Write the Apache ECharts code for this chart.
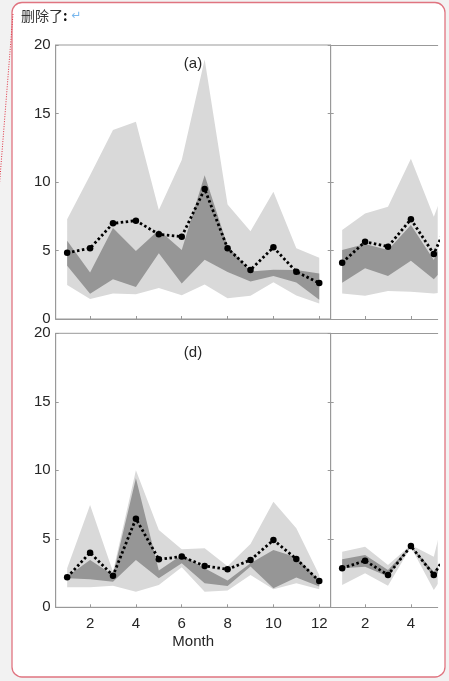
<!DOCTYPE html>
<html>
<head>
<meta charset="utf-8">
<script src="https://cdn.jsdelivr.net/npm/echarts@6/dist/echarts.min.js"></script>
<style>
html,body{margin:0;padding:0;background:#f2f2f2;}
#main{width:449px;height:681px;}
</style>
</head>
<body>
<div id="main"></div>
<script>
// 月份
var months = [1, 2, 3, 4, 5, 6, 7, 8, 9, 10, 11, 12];
var monthsRight = [1, 2, 3, 4, 5, 6];
var xTicksLeft = [2, 4, 6, 8, 10, 12];
var xTicksRight = [2, 4];

// (a) 左图
var aMean      = [4.84, 5.16, 6.98, 7.18, 6.18, 6.01, 9.49, 5.16, 3.58, 5.23, 3.45, 2.62];
var aLightHigh = [7.28, 10.5, 13.8, 14.4, 7.96, 11.6, 18.95, 8.35, 6.4, 9.29, 5.16, 4.47];
var aLightLow  = [2.48, 1.46, 1.87, 1.8, 2.26, 1.73, 2.52, 1.52, 1.7, 2.68, 1.72, 1.13];
var aDarkHigh  = [5.72, 3.4, 6.64, 4.97, 6.5, 5.04, 10.5, 5.35, 3.47, 3.6, 3.58, 3.32];
var aDarkLow   = [3.88, 1.84, 2.9, 2.33, 4.8, 2.6, 4.33, 3.43, 2.74, 3.14, 2.66, 1.41];

// (a) 右侧(被裁掉的一部分)
var bMean      = [4.11, 5.64, 5.28, 7.28, 4.74, 8.6];
var bLightHigh = [6.5, 7.7, 8.2, 11.7, 7.47, 11.8];
var bLightLow  = [1.87, 1.7, 2.04, 1.99, 1.87, 2.0];
var bDarkHigh  = [5.04, 5.47, 5.04, 6.86, 4.31, 8.3];
var bDarkLow   = [2.65, 3.7, 3.14, 4.26, 2.9, 4.7];

// (d) 左图
var dMean      = [2.19, 3.99, 2.31, 6.47, 3.5, 3.7, 3.02, 2.77, 3.45, 4.91, 3.53, 1.92];
var dLightHigh = [2.85, 7.47, 2.6, 10.0, 5.64, 4.23, 4.31, 3.0, 4.62, 7.71, 5.77, 2.36];
var dLightLow  = [1.46, 1.46, 1.58, 1.14, 1.63, 2.92, 1.14, 1.22, 2.36, 1.31, 1.75, 1.31];
var dDarkHigh  = [2.24, 3.45, 2.36, 9.42, 2.68, 3.82, 2.85, 1.95, 3.21, 4.18, 3.65, 1.95];
var dDarkLow   = [2.12, 2.04, 1.87, 3.45, 2.12, 3.21, 1.75, 1.56, 2.97, 1.39, 2.17, 1.51];

// (d) 右侧
var eMean      = [2.85, 3.4, 2.36, 4.47, 2.36, 5.2];
var eLightHigh = [4.06, 4.42, 3.09, 4.55, 3.69, 10.5];
var eLightLow  = [1.63, 2.48, 1.58, 4.4, 1.26, 3.8];
var eDarkHigh  = [3.5, 3.82, 2.72, 4.5, 2.6, 5.0];
var eDarkLow   = [2.85, 2.96, 2.24, 4.42, 2.2, 3.9];

var LIGHT = '#d9d9d9';
var DARK = '#969696';
var AXIS = '#999999';
var TXT = '#262626';
var FONT = 'Liberation Sans';

// 布局
var plotLeft = 55.7, plotW = 275, rightW = 107, plotH = 274;
var topA = 45, topD = 333.3;
var rightMax = 0.5 + rightW / (plotW / 12);

function pairs(xs, ys) {
	return xs.map(function (x, i) { return [x, ys[i]]; });
}

// 阴影带: 一个多边形, 上沿 + 反向的下沿
function band(idx, xs, low, high, color) {
	return {
		type: 'custom', xAxisIndex: idx, yAxisIndex: idx, silent: true,
		data: xs.map(function (x, i) { return [x, low[i], high[i]]; }),
		encode: { x: 0, y: [1, 2] },
		renderItem: function (params, api) {
			if (params.dataIndex !== 0) return;
			var pts = [];
			for (var i = 0; i < xs.length; i++) pts.push(api.coord([xs[i], high[i]]));
			for (var j = xs.length - 1; j >= 0; j--) pts.push(api.coord([xs[j], low[j]]));
			var cs = params.coordSys;
			return {
				type: 'polygon', shape: { points: pts }, style: { fill: color },
				clipPath: { type: 'rect', shape: { x: cs.x, y: cs.y, width: cs.width, height: cs.height } }
			};
		}
	};
}

function meanLine(idx, xs, ys) {
	return {
		type: 'line', xAxisIndex: idx, yAxisIndex: idx, data: pairs(xs, ys),
		symbol: 'circle', symbolSize: 6.5, itemStyle: { color: '#000' },
		lineStyle: { color: '#000', width: 2.8, type: [2.5, 2.5] }, silent: true
	};
}

function xAxisOf(grid, max, ticks, showLabel, name) {
	return {
		type: 'value', gridIndex: grid, min: 0.5, max: max, position: 'bottom',
		splitLine: { show: false },
		axisLine: { show: true, onZero: false, lineStyle: { color: AXIS } },
		axisTick: { show: true, inside: true, length: 3, customValues: ticks, lineStyle: { color: AXIS } },
		axisLabel: { show: showLabel, customValues: ticks, color: TXT, fontSize: 15, fontFamily: FONT, margin: 9 },
		name: name, nameLocation: 'middle', nameGap: 27,
		nameTextStyle: { color: TXT, fontSize: 15, fontFamily: FONT }
	};
}

function yAxisOf(grid, pos, showLabel, showLine) {
	return {
		type: 'value', gridIndex: grid, min: 0, max: 20, interval: 5, position: pos,
		splitLine: { show: false },
		axisLine: { show: showLine, lineStyle: { color: AXIS } },
		axisTick: { show: true, inside: true, length: 3, lineStyle: { color: AXIS } },
		axisLabel: { show: showLabel, color: TXT, fontSize: 15, fontFamily: FONT, margin: 5 }
	};
}

function topLine(grid, max) {
	return {
		type: 'value', gridIndex: grid, min: 0.5, max: max, position: 'top',
		splitLine: { show: false }, axisTick: { show: false }, axisLabel: { show: false },
		axisLine: { show: true, onZero: false, lineStyle: { color: AXIS } }
	};
}

var series = [
	band(0, months, aLightLow, aLightHigh, LIGHT),
	band(0, months, aDarkLow, aDarkHigh, DARK),
	meanLine(0, months, aMean),
	band(1, monthsRight, bLightLow, bLightHigh, LIGHT),
	band(1, monthsRight, bDarkLow, bDarkHigh, DARK),
	meanLine(1, monthsRight, bMean),
	band(2, months, dLightLow, dLightHigh, LIGHT),
	band(2, months, dDarkLow, dDarkHigh, DARK),
	meanLine(2, months, dMean),
	band(3, monthsRight, eLightLow, eLightHigh, LIGHT),
	band(3, monthsRight, eDarkLow, eDarkHigh, DARK),
	meanLine(3, monthsRight, eMean)
];

var chart = echarts.init(document.getElementById('main'));

var option = {
	backgroundColor: '#f2f2f2',
	animation: false,
	graphic: [
		{ type: 'rect', z: -10, shape: { x: 12, y: 2.5, width: 433, height: 674.5, r: 10 },
		  style: { fill: '#ffffff', stroke: '#e07480', lineWidth: 1.3 } },
		{ type: 'line', z: -9, shape: { x1: 13, y1: 14, x2: -1, y2: 190 },
		  style: { stroke: '#e03040', lineWidth: 1, lineDash: [1, 1.5] } },
		{ type: 'text', x: 21, y: 16, style: {
			text: '{a|删除了}{b|:}{c| ↵}',
			verticalAlign: 'middle',
			rich: {
				a: { fontFamily: 'Noto Sans CJK SC', fontSize: 14, fill: '#333' },
				b: { fontFamily: 'Noto Sans CJK SC', fontSize: 14, fill: '#111', fontWeight: 'bold' },
				c: { fontFamily: 'DejaVu Sans', fontSize: 12, fill: '#7ab8ee' }
			}
		} },
		{ type: 'text', x: 193, y: 64, style: { text: '(a)', fontFamily: FONT, fontSize: 15, fill: TXT, align: 'center', verticalAlign: 'middle' } },
		{ type: 'text', x: 193, y: 353, style: { text: '(d)', fontFamily: FONT, fontSize: 15, fill: TXT, align: 'center', verticalAlign: 'middle' } }
	],
	grid: [
		{ left: plotLeft, top: topA, width: plotW, height: plotH, show: true, borderColor: AXIS, borderWidth: 1, backgroundColor: 'transparent' },
		{ left: plotLeft + plotW, top: topA, width: rightW, height: plotH },
		{ left: plotLeft, top: topD, width: plotW, height: plotH, show: true, borderColor: AXIS, borderWidth: 1, backgroundColor: 'transparent' },
		{ left: plotLeft + plotW, top: topD, width: rightW, height: plotH }
	],
	xAxis: [
		xAxisOf(0, 12.5, xTicksLeft, false, ''),
		xAxisOf(1, rightMax, xTicksRight, false, ''),
		xAxisOf(2, 12.5, xTicksLeft, true, 'Month'),
		xAxisOf(3, rightMax, xTicksRight, true, ''),
		topLine(1, rightMax),
		topLine(3, rightMax)
	],
	yAxis: [
		yAxisOf(0, 'left', true, true),
		yAxisOf(1, 'left', false, true),
		yAxisOf(2, 'left', true, true),
		yAxisOf(3, 'left', false, true),
		yAxisOf(0, 'right', false, false),
		yAxisOf(2, 'right', false, false)
	],
	series: series
};

chart.setOption(option);
</script>
</body>
</html>
